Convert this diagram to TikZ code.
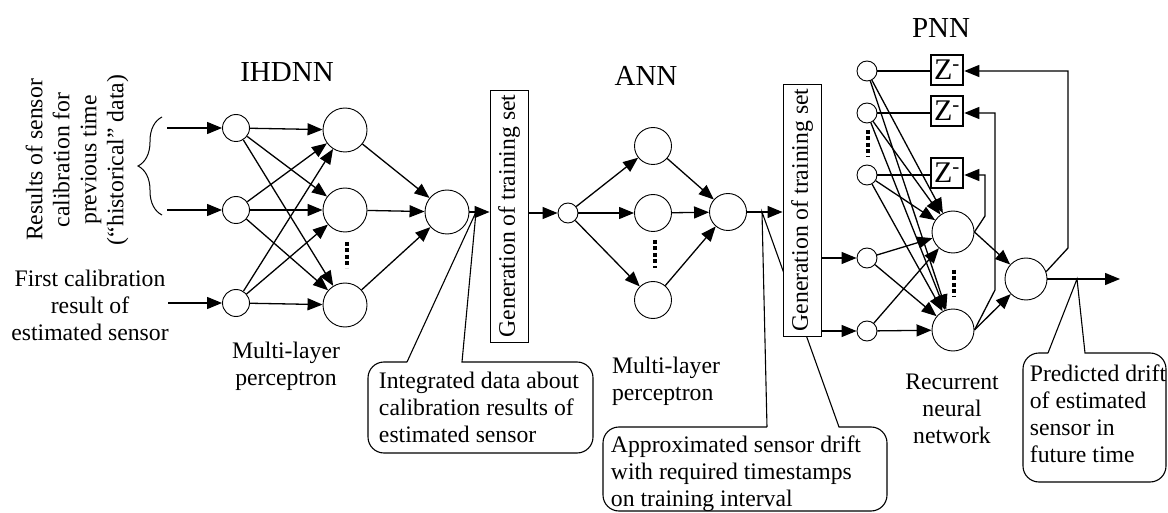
\documentclass[tikz,border=0pt]{standalone}
\usepackage{fontspec}
\setmainfont{Liberation Serif}
\usetikzlibrary{arrows.meta,decorations.pathreplacing}
\begin{document}
\begin{tikzpicture}[x=1pt,y=-1pt,
  txt/.style={font=\fontsize{23.7}{27}\selectfont, inner sep=0pt},
  ttl/.style={font=\fontsize{29}{32}\selectfont, inner sep=0pt},
  neu/.style={circle, draw, line width=0.9pt, inner sep=0pt, fill=white},
  sn/.style={neu, minimum size=20pt},
  mn/.style={neu, minimum size=27pt},
  bn/.style={neu, minimum size=44pt},
  an/.style={neu, minimum size=37pt},
  pn/.style={neu, minimum size=42pt},
  gen/.style={draw, line width=0.9pt, fill=white, rotate=90, minimum width=252pt, minimum height=38pt, inner sep=0pt, font=\fontsize{23.7}{27}\selectfont},
  zb/.style={draw, line width=2.6pt, fill=white, minimum width=32pt, minimum height=30pt, inner sep=0pt, font=\fontsize{30}{30}\selectfont},
  arr/.style={line width=1.3pt, -{Triangle[length=15pt,width=12pt]}},
  ln/.style={line width=1.3pt},
  dots/.style={line width=4pt, dash pattern=on 4pt off 2.5pt},
  call/.style={line width=1.1pt},
]
\useasboundingbox (0,0) rectangle (1168,513);

% callout tips
\coordinate (t1) at (476,212);
\coordinate (t2) at (762,212);
\coordinate (t3) at (1077,279);

% callouts (drawn first, so boxes cover them)
\draw[call] (407,362) -- (t1) -- (462,362) [rounded corners=16pt] -- (593,362) -- (593,453) -- (368,453) -- (368,362) -- (407,362);
\draw[call] (767,427) -- (t2) -- (839,427) [rounded corners=16pt] -- (887,427) -- (887,511) -- (603,511) -- (603,427) -- (767,427);
\draw[call] (1048,353) -- (t3) -- (1085,353) [rounded corners=16pt] -- (1166,353) -- (1166,482) -- (1023,482) -- (1023,353) -- (1048,353);

\node[txt, align=left] (cap1) at (479,407) {Integrated data about\\calibration results of\\estimated sensor};
\node[txt, align=left] (cap2) at (736,474) {Approximated sensor drift\\with required timestamps\\on training interval};
\node[txt, align=left] (cap3) at (1098,414) {Predicted drift\\of estimated\\sensor in\\future time};

% left texts
\node[txt, align=center, rotate=90] (hist) at (77,160) {Results of sensor\\calibration for\\previous time\\(“historical” data)};
\draw[line width=1pt, decorate, decoration={brace, amplitude=24pt}] (162,215) -- (162,117);
\node[txt, align=center] (first) at (90,305) {First calibration\\result of\\estimated sensor};

% titles and labels
\node[ttl] (tI) at (287,72) {IHDNN};
\node[ttl] (tA) at (646,76) {ANN};
\node[ttl] (tP) at (941,28) {PNN};
\node[txt, align=center] (mlp1) at (286,366) {Multi-layer\\perceptron};
\node[txt, align=left] (mlp2) at (666,381) {Multi-layer\\perceptron};
\node[txt, align=center] (rnn) at (952,409) {Recurrent\\neural\\network};

% IHDNN
\node[mn] (i1) at (236,128) {};
\node[mn] (i2) at (236,210) {};
\node[mn] (i3) at (236,303) {};
\node[bn] (h1) at (345,130) {};
\node[bn] (h2) at (345,210) {};
\node[bn] (h3) at (345,305) {};
\node[bn] (o) at (447,212) {};
\draw[dots] (347,242) -- (347,268);

\coordinate (in1) at (167,128);
\coordinate (in2) at (167,210);
\coordinate (in3) at (168,303);
\draw[arr] (in1) -- (i1);
\draw[arr] (in2) -- (i2);
\draw[arr] (in3) -- (i3);
\foreach \a in {i1,i2,i3} \foreach \b in {h1,h2,h3} \draw[arr] (\a) -- (\b);
\foreach \b in {h1,h2,h3} \draw[arr] (\b) -- (o);

% generation boxes
\node[gen] (g1) at (509,216) {Generation of training set};
\node[gen] (g2) at (802,210) {Generation of training set};
\draw[arr] (o) -- (o -| g1.north);

% ANN
\node[sn] (s) at (568,213) {};
\node[an] (a1) at (653,146) {};
\node[an] (a2) at (653,213) {};
\node[an] (a3) at (653,300) {};
\node[an] (ao) at (728,212) {};
\draw[dots] (655,240) -- (655,268);
\draw[arr] (s -| g1.south) -- (s);
\foreach \b in {a1,a2,a3} {\draw[arr] (s) -- (\b); \draw[arr] (\b) -- (ao);}
\draw[arr] (ao) -- (ao -| g2.north);

% PNN
\node[sn] (c1) at (867,71) {};
\node[sn] (c2) at (867,113) {};
\node[sn] (c3) at (867,175) {};
\node[sn] (p1) at (867,258) {};
\node[sn] (p2) at (867,331) {};
\node[zb] (z1) at (947,70) {Z\textsuperscript{-}};
\node[zb] (z2) at (947,111) {Z\textsuperscript{-}};
\node[zb] (z3) at (947,173) {Z\textsuperscript{-}};
\node[pn] (ph1) at (953,232) {};
\node[pn] (ph2) at (953,330) {};
\node[pn] (po) at (1026,279) {};
\draw[dots] (868,130) -- (868,157);
\draw[dots] (954,270) -- (954,297);

\draw[arr] (p1 -| g2.south) -- (p1);
\draw[arr] (p2 -| g2.south) -- (p2);
\draw[ln] (c1) -- (c1 -| z1.west);
\draw[ln] (c2) -- (c2 -| z2.west);
\draw[ln] (c3) -- (c3 -| z3.west);
\foreach \a in {c1,c2,c3,p1,p2} \foreach \b in {ph1,ph2} \draw[arr] (\a) -- (\b);
\draw[arr] (ph1.east) -- (po);
\draw[arr] (ph2.east) -- (po);
\coordinate (out) at (1120,279);
\draw[arr] (po) -- (out);

\coordinate (f1a) at (1068,248);
\coordinate (f1b) at (1068,71);
\coordinate (f2a) at (995,290);
\coordinate (f2b) at (995,113);
\coordinate (f3a) at (985,216);
\coordinate (f3b) at (985,175);
\draw[arr] (po.20) -- (f1a) -- (f1b) -- (f1b -| z1.east);
\draw[arr] (ph2.east) -- (f2a) -- (f2b) -- (f2b -| z2.east);
\draw[arr] (ph1.east) -- (f3a) -- (f3b) -- (f3b -| z3.east);
\end{tikzpicture}
\end{document}
